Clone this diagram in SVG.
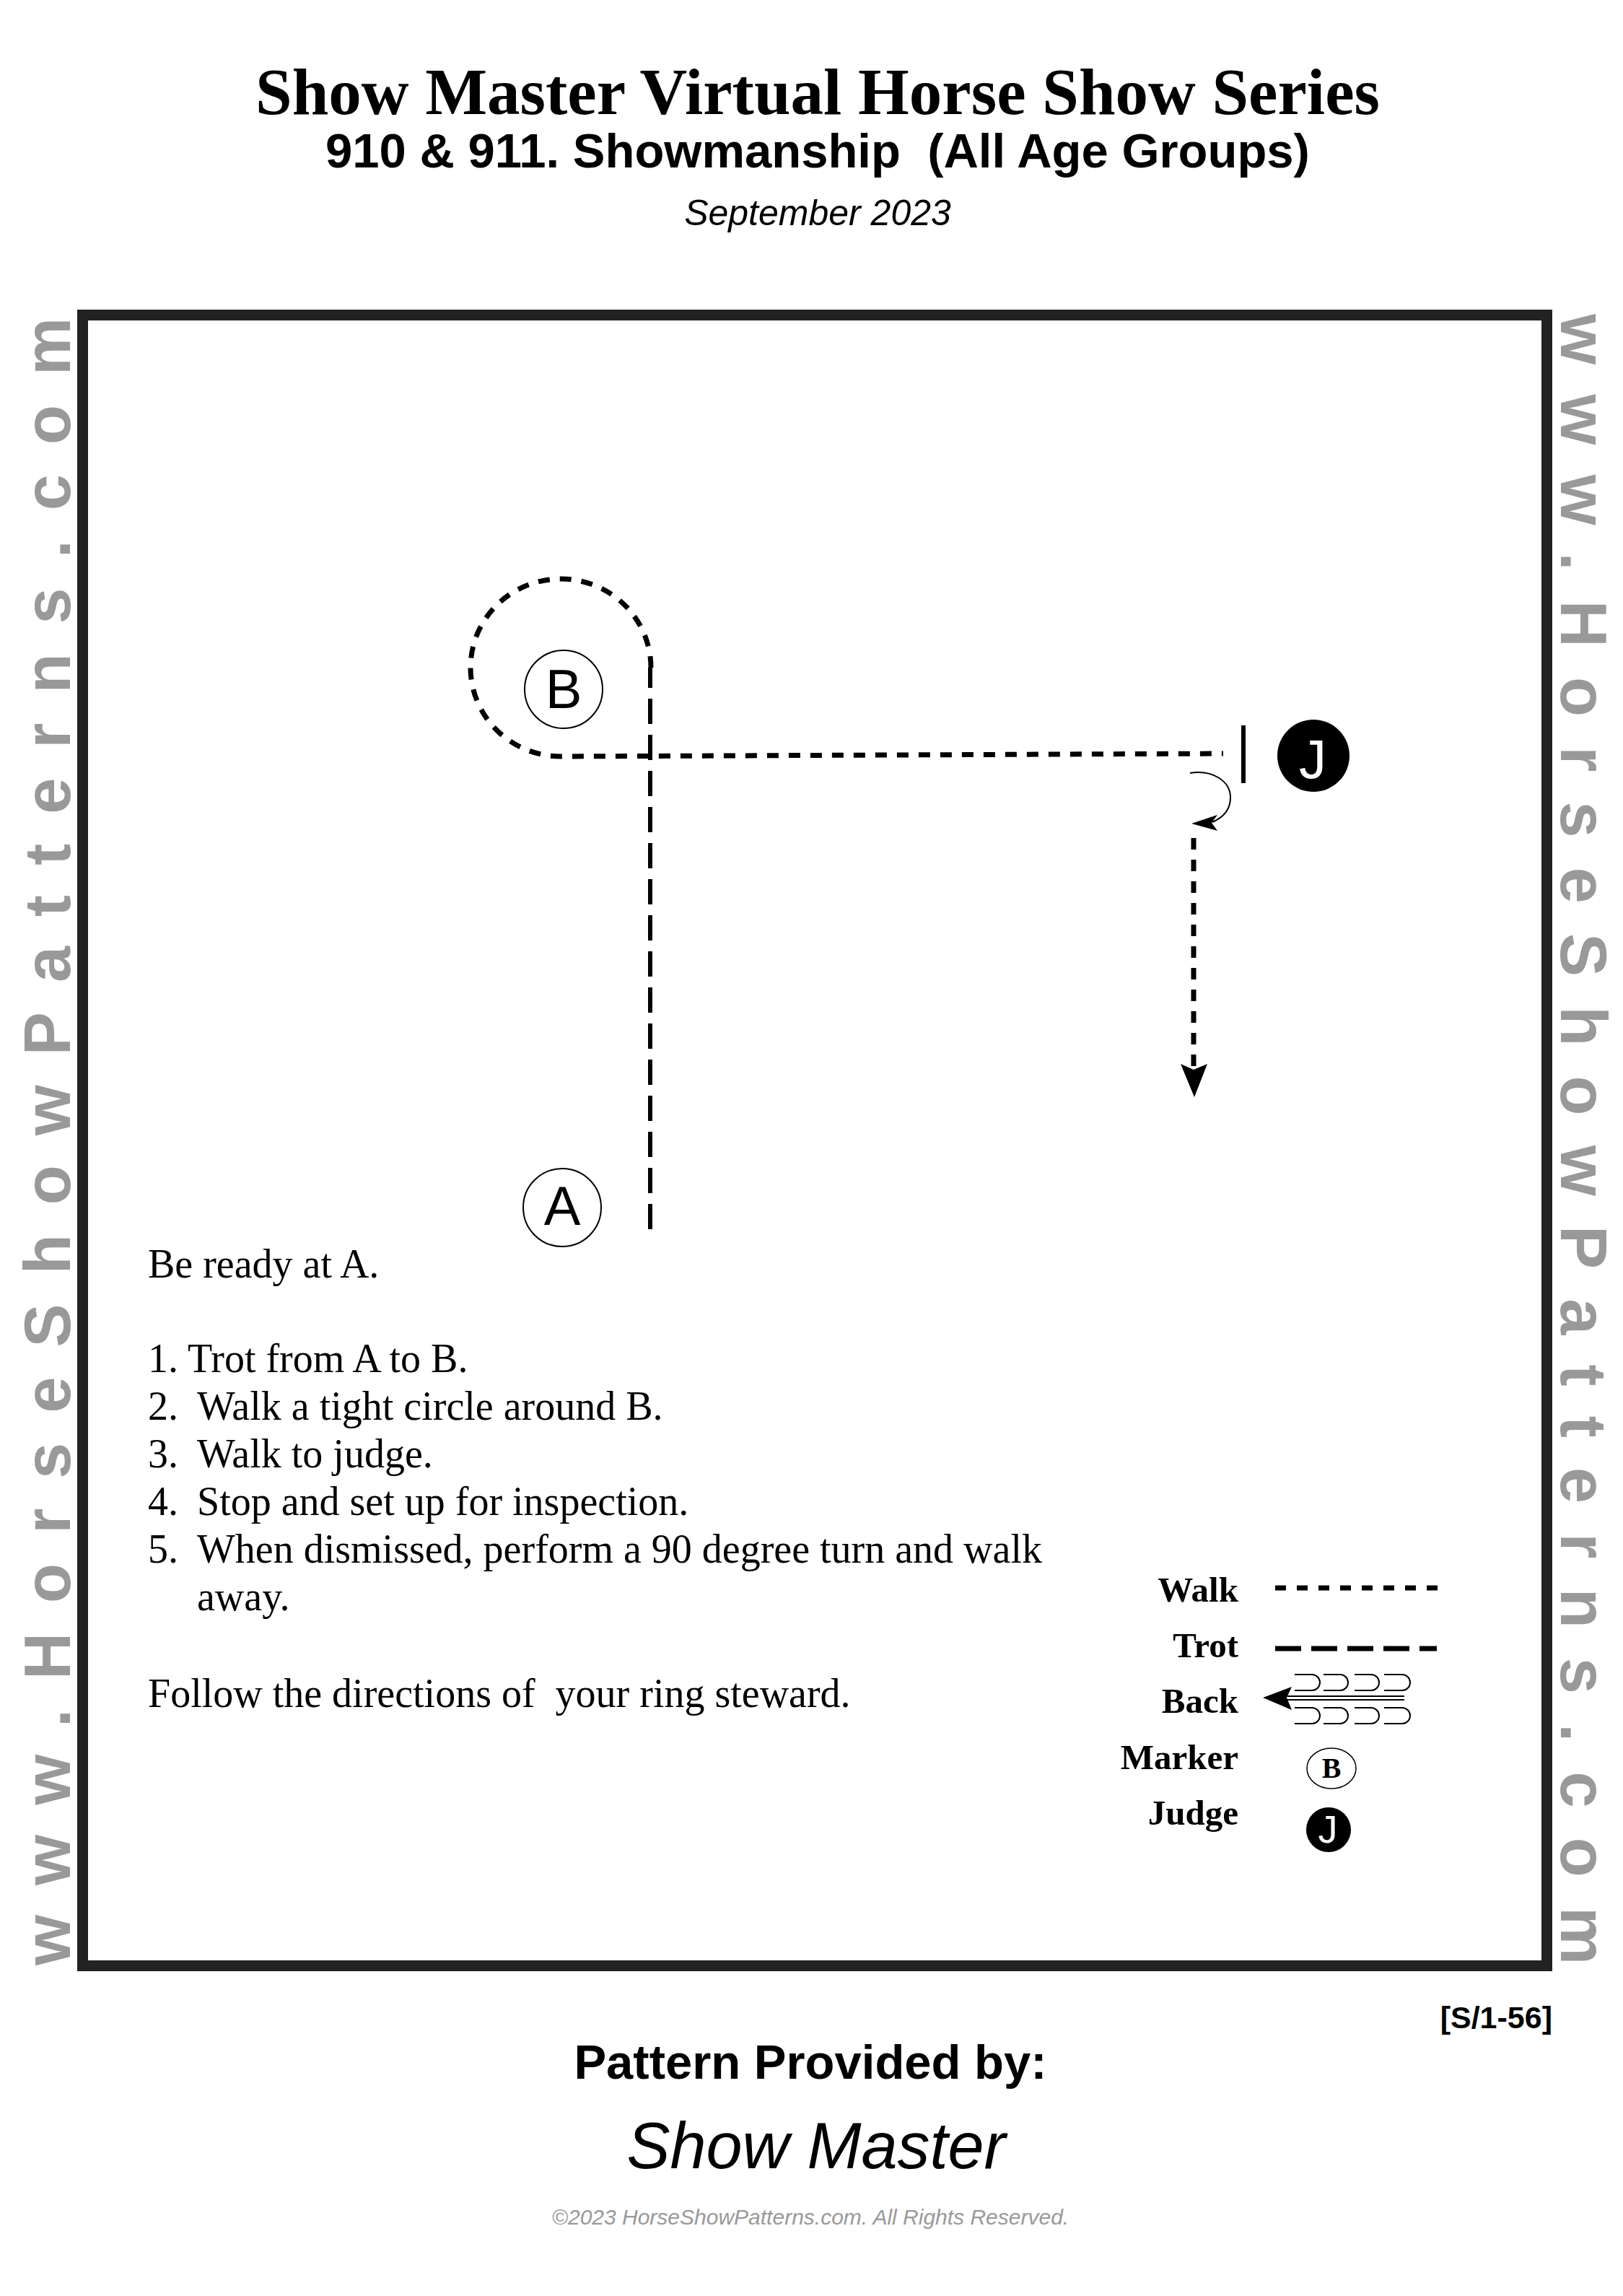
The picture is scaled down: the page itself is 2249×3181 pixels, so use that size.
<svg xmlns="http://www.w3.org/2000/svg" width="2249" height="3181" viewBox="0 0 2249 3181">
<style>
.title{font-family:"Liberation Serif","Times New Roman",serif;font-weight:bold;font-size:91px;fill:#000;text-anchor:middle}
.sans{font-family:"Liberation Sans",Arial,sans-serif;fill:#000}
.side{font-family:"Liberation Sans",Arial,sans-serif;font-weight:bold;font-size:90px;fill:#999}
.body{font-family:"Liberation Serif","Times New Roman",serif;font-size:56px;fill:#000}
.leg{font-family:"Liberation Serif","Times New Roman",serif;font-weight:bold;font-size:49px;fill:#000;text-anchor:end}
.mk{font-family:"Liberation Sans",Arial,sans-serif;font-size:76px;text-anchor:middle}
.walk{fill:none;stroke:#000;stroke-width:7;stroke-dasharray:16 14}
.trot{fill:none;stroke:#000;stroke-width:6;stroke-dasharray:35 15}
.thin{fill:none;stroke:#000;stroke-width:2}
</style>
<rect width="2249" height="3181" fill="#fff"/>
<!-- header -->
<text class="title" x="1133" y="158">Show Master Virtual Horse Show Series</text>
<text class="sans" x="1133" y="232" font-size="67" font-weight="bold" text-anchor="middle" xml:space="preserve">910 &amp; 911. Showmanship  (All Age Groups)</text>
<text class="sans" x="1133" y="312" font-size="50" font-style="italic" text-anchor="middle">September 2023</text>
<!-- frame -->
<rect x="114.5" y="436.5" width="2029" height="2287" fill="none" stroke="#222" stroke-width="15"/>
<!-- side watermarks -->
<text class="side" transform="translate(97,1582) rotate(-90)" x="-1141" y="0" textLength="2283" lengthAdjust="spacing">www.HorseShowPatterns.com</text>
<text class="side" transform="translate(2163,1578) rotate(90)" x="-1143" y="0" textLength="2287" lengthAdjust="spacing">www.HorseShowPatterns.com</text>
<!-- connectors -->
<g id="connectors">
<path class="trot" d="M901,1703 V925"/>
<path class="walk" d="M902,925 A125,123 0 1 0 777,1048 L1695,1044"/>
<line x1="1723" y1="1005" x2="1723" y2="1085" stroke="#000" stroke-width="6"/>
<path class="thin" stroke-width="2.5" d="M1649,1071 C1680,1066 1705,1082 1705,1105 C1705,1122 1694,1133 1680,1139"/>
<polygon points="1651,1141 1687,1129 1679,1140 1687,1151" fill="#000"/>
<path class="walk" d="M1654,1161 V1478"/>
<polygon points="1655,1520 1636,1474 1654,1482 1673,1474" fill="#000"/>
</g>
<!-- nodes -->
<g id="marker-B">
<circle cx="781" cy="955" r="54" fill="#fff" stroke="#000" stroke-width="2"/>
<text class="mk" x="781" y="981" fill="#000">B</text>
</g>
<g id="marker-A">
<circle cx="779" cy="1673" r="54" fill="#fff" stroke="#000" stroke-width="2"/>
<text class="mk" x="779" y="1697" fill="#000">A</text>
</g>
<g id="judge">
<circle cx="1820" cy="1047" r="50" fill="#000"/>
<text class="mk" x="1819" y="1078" font-size="84" fill="#fff">J</text>
</g>
<!-- instructions -->
<g id="instructions" class="body">
<text x="205" y="1770">Be ready at A.</text>
<text x="205" y="1901">1. Trot from A to B.</text>
<text x="205" y="1967">2.<tspan x="273">Walk a tight circle around B.</tspan></text>
<text x="205" y="2033">3.<tspan x="273">Walk to judge.</tspan></text>
<text x="205" y="2099">4.<tspan x="273">Stop and set up for inspection.</tspan></text>
<text x="205" y="2165">5.<tspan x="273">When dismissed, perform a 90 degree turn and walk</tspan></text>
<text x="273" y="2231">away.</text>
<text x="205" y="2365" xml:space="preserve">Follow the directions of  your ring steward.</text>
</g>
<!-- legend -->
<g id="legend">
<text class="leg" x="1716" y="2219">Walk</text>
<text class="leg" x="1716" y="2296">Trot</text>
<text class="leg" x="1716" y="2373">Back</text>
<text class="leg" x="1716" y="2451">Marker</text>
<text class="leg" x="1716" y="2528">Judge</text>
<line x1="1767" y1="2200" x2="1992" y2="2200" stroke="#000" stroke-width="7" stroke-dasharray="15 15"/>
<line x1="1767" y1="2284" x2="1991" y2="2284" stroke="#000" stroke-width="7" stroke-dasharray="36 14"/>
<line x1="1784" y1="2350" x2="1946" y2="2350" stroke="#000" stroke-width="1.8"/>
<line x1="1784" y1="2355" x2="1946" y2="2355" stroke="#000" stroke-width="1.8"/>
<polygon points="1750,2352 1790,2337 1783,2352 1790,2369" fill="#000"/>
<path class="thin" d="M1794,2320 H1818 A11,11 0 0 1 1818,2342 H1794 M1834,2320 H1857 A11,11 0 0 1 1857,2342 H1834 M1877,2320 H1900 A11,11 0 0 1 1900,2342 H1877 M1918,2320 H1943 A11,11 0 0 1 1943,2342 H1918"/>
<path class="thin" d="M1794,2366 H1818 A11,11 0 0 1 1818,2388 H1794 M1834,2366 H1857 A11,11 0 0 1 1857,2388 H1834 M1877,2366 H1900 A11,11 0 0 1 1900,2388 H1877 M1918,2366 H1943 A11,11 0 0 1 1943,2388 H1918"/>
<ellipse cx="1845" cy="2450" rx="34" ry="28" fill="#fff" stroke="#000" stroke-width="1.5"/>
<text x="1845" y="2463" font-family="Liberation Serif, serif" font-weight="bold" font-size="40" text-anchor="middle">B</text>
<circle cx="1841" cy="2535" r="31" fill="#000"/>
<text x="1840" y="2553" font-family="Liberation Sans, Arial, sans-serif" font-size="54" fill="#fff" text-anchor="middle">J</text>
</g>
<!-- footer -->
<text class="sans" x="2151" y="2810" font-size="43" font-weight="bold" text-anchor="end">[S/1-56]</text>
<text class="sans" x="1123" y="2880" font-size="67" font-weight="bold" text-anchor="middle">Pattern Provided by:</text>
<text class="sans" x="1131" y="3004" font-size="90" font-style="italic" text-anchor="middle">Show Master</text>
<text x="1123" y="3082" font-family="Liberation Sans, Arial, sans-serif" font-size="30" font-style="italic" fill="#999" text-anchor="middle">©2023 HorseShowPatterns.com. All Rights Reserved.</text>
</svg>
